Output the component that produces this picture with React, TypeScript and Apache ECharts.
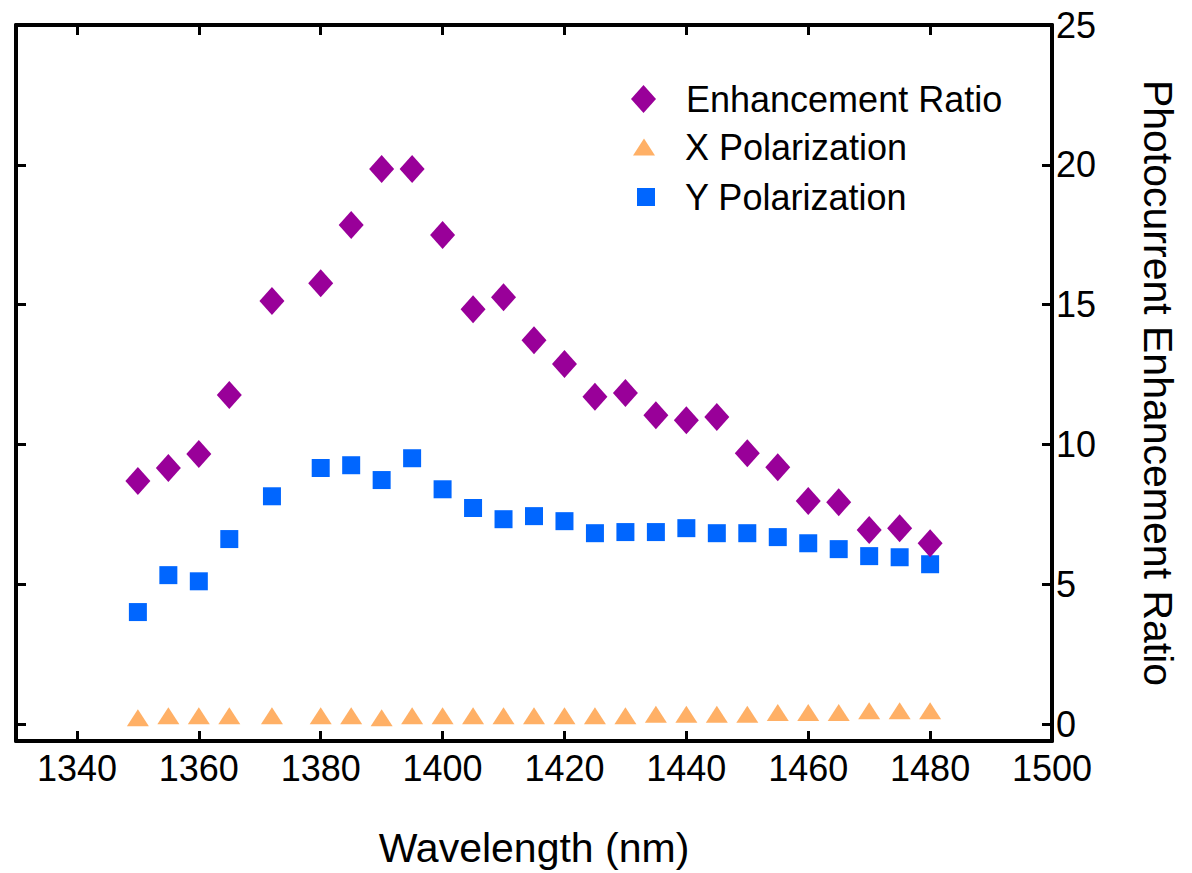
import React, { useEffect, useRef } from "react";
import * as echarts from "echarts";

const wavelengths = [1350, 1355, 1360, 1365, 1372, 1380, 1385, 1390, 1395, 1400, 1405, 1410, 1415, 1420, 1425, 1430, 1435, 1440, 1445, 1450, 1455, 1460, 1465, 1470, 1475, 1480];
const enhancementRatio = [8.7, 9.16, 9.66, 11.77, 15.13, 15.77, 17.85, 19.85, 19.85, 17.49, 14.84, 15.27, 13.73, 12.88, 11.71, 11.84, 11.05, 10.87, 10.98, 9.69, 9.19, 7.98, 7.94, 6.94, 7.01, 6.47];
const xPolarization = [0.23, 0.3, 0.3, 0.3, 0.3, 0.3, 0.3, 0.23, 0.3, 0.3, 0.3, 0.3, 0.3, 0.3, 0.3, 0.3, 0.36, 0.36, 0.36, 0.36, 0.42, 0.42, 0.42, 0.48, 0.48, 0.48];
const yPolarization = [4.01, 5.33, 5.11, 6.62, 8.15, 9.16, 9.26, 8.73, 9.51, 8.4, 7.73, 7.33, 7.44, 7.26, 6.83, 6.87, 6.87, 7.01, 6.83, 6.83, 6.69, 6.47, 6.26, 6.01, 5.97, 5.72];
const xTicks = [1340, 1360, 1380, 1400, 1420, 1440, 1460, 1480, 1500];
const yTicks = [0, 5, 10, 15, 20, 25];

const FONT = "'Liberation Sans', Arial, sans-serif";

export default function App() {
  const ref = useRef<HTMLDivElement>(null);
  useEffect(() => {
    if (!ref.current) return;
    document.body.style.margin = "0";
    document.body.style.overflow = "hidden";
    const chart = echarts.init(ref.current, undefined, { renderer: "svg" });
    const pair = (arr: number[]) => wavelengths.map((w, i) => [w, arr[i]]);
    const axisLine = { show: true, onZero: false, lineStyle: { color: "#000", width: 4 } };
    const axisTick = (vals: number[]) => ({
      show: true,
      inside: true,
      length: 10,
      lineStyle: { color: "#000", width: 3 },
      customValues: vals,
    });
    const legendBase = {
      orient: "vertical",
      padding: 0,
      selectedMode: false,
      textStyle: { fontSize: 36, color: "#000", fontFamily: FONT, padding: [0, 0, 0, 25] },
    };
    chart.setOption({
      animation: false,
      backgroundColor: "#fff",
      grid: { left: 16, right: 140, top: 25, bottom: 132, containLabel: false },
      xAxis: [
        {
          type: "value",
          position: "bottom",
          min: 1330,
          max: 1500,
          axisLine,
          axisTick: axisTick(xTicks),
          axisLabel: {
            show: true,
            customValues: xTicks,
            formatter: (v: number) => String(v),
            fontSize: 36,
            color: "#000",
            fontFamily: FONT,
            margin: 9,
          },
          splitLine: { show: false },
          name: "Wavelength (nm)",
          nameLocation: "middle",
          nameGap: 86,
          nameTextStyle: { fontSize: 41, color: "#000", fontFamily: FONT },
        },
        {
          type: "value",
          position: "top",
          min: 1330,
          max: 1500,
          axisLine,
          axisTick: axisTick(xTicks),
          axisLabel: { show: false },
          splitLine: { show: false },
        },
      ],
      yAxis: [
        {
          type: "value",
          position: "right",
          min: -0.6,
          max: 25,
          axisLine,
          axisTick: axisTick(yTicks),
          axisLabel: {
            show: true,
            customValues: yTicks,
            formatter: (v: number) => String(v),
            fontSize: 36,
            color: "#000",
            fontFamily: FONT,
            margin: 4,
          },
          splitLine: { show: false },
          name: "Photocurrent Enhancement Ratio",
          nameLocation: "middle",
          nameRotate: -90,
          nameGap: 85,
          nameTextStyle: { fontSize: 41, color: "#000", fontFamily: FONT },
        },
        {
          type: "value",
          position: "left",
          min: -0.6,
          max: 25,
          axisLine,
          axisTick: axisTick(yTicks),
          axisLabel: { show: false },
          splitLine: { show: false },
        },
      ],
      legend: [
        {
          ...legendBase,
          data: [{ name: "Enhancement Ratio", icon: "diamond" }],
          itemWidth: 25,
          itemHeight: 28,
          left: 631,
          top: 81,
        },
        {
          ...legendBase,
          data: [{ name: "X Polarization", icon: "triangle" }],
          itemWidth: 22,
          itemHeight: 17,
          left: 633,
          top: 129,
        },
        {
          ...legendBase,
          data: [{ name: "Y Polarization", icon: "rect" }],
          itemWidth: 18,
          itemHeight: 18,
          left: 637,
          top: 179,
        },
      ],
      series: [
        {
          name: "X Polarization",
          type: "scatter",
          symbol: "triangle",
          symbolSize: [22, 17],
          itemStyle: { color: "#FFB066", opacity: 1 },
          data: pair(xPolarization),
        },
        {
          name: "Y Polarization",
          type: "scatter",
          symbol: "rect",
          symbolSize: [18, 18],
          itemStyle: { color: "#0066FF", opacity: 1 },
          data: pair(yPolarization),
        },
        {
          name: "Enhancement Ratio",
          type: "scatter",
          symbol: "diamond",
          symbolSize: [25, 28],
          itemStyle: { color: "#990099", opacity: 1 },
          data: pair(enhancementRatio),
        },
      ],
    });
    return () => chart.dispose();
  }, []);
  return <div ref={ref} style={{ position: "fixed", left: 0, top: 0, width: 1192, height: 873 }} />;
}
